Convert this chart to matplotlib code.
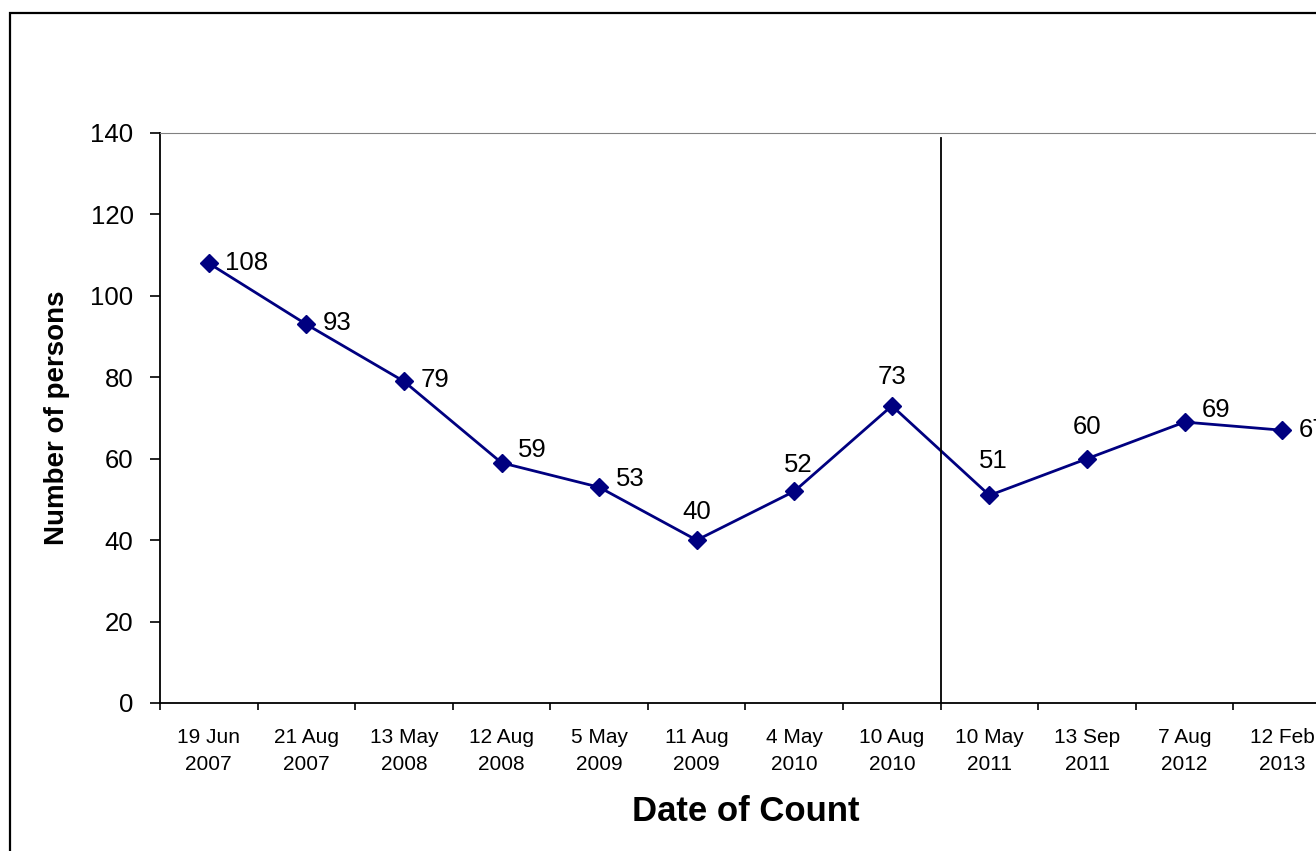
import matplotlib
matplotlib.use("Agg")
import matplotlib.pyplot as plt
from matplotlib.patches import Rectangle

plt.rcParams['font.family'] = ['Liberation Sans', 'DejaVu Sans']

dates = ["19 Jun\n2007", "21 Aug\n2007", "13 May\n2008", "12 Aug\n2008",
         "5 May\n2009", "11 Aug\n2009", "4 May\n2010", "10 Aug\n2010",
         "10 May\n2011", "13 Sep\n2011", "7 Aug\n2012", "12 Feb\n2013"]
persons = [108, 93, 79, 59, 53, 40, 52, 73, 51, 60, 69, 67]

# where each value label sits, offset from its point (in points)
label_offsets = [(12, 0), (12, 1), (12, 1), (12, 9), (12, 6), (0, 20),
                 (3, 19), (0, 21), (3, 25), (0, 23), (12, 9), (12, 0)]

fig = plt.figure(figsize=(13.16, 8.51), dpi=100)
fig.patches.append(Rectangle((10 / 1316, -0.1), 1.2, 1 - 13 / 851 + 0.1,
                             transform=fig.transFigure, fill=False,
                             edgecolor='black', linewidth=1.6))

ax = fig.add_axes([160 / 1316, 148 / 851, 1171 / 1316, 570 / 851])

x = list(range(len(persons)))
ax.plot(x, persons, color='#000080', linewidth=2, marker='D', markersize=9.5)

for xi, val, (dx, dy) in zip(x, persons, label_offsets):
    ha = 'left' if dx >= 8 else 'center'
    ax.annotate(str(val), (xi, val), xytext=(dx, dy), textcoords='offset points',
                ha=ha, va='center', fontsize=18.5)

ax.axvline(7.5, ymin=0, ymax=0.991, color='black', linewidth=1.3)

ax.set_xlim(-0.5, len(persons) - 0.5)
ax.set_ylim(0, 140)
ax.set_yticks(range(0, 141, 20))
ax.set_xticks([i - 0.5 for i in range(len(persons) + 1)])
ax.set_xticklabels([])
ax.set_xticks(x, minor=True)
ax.set_xticklabels(dates, minor=True, fontsize=15, linespacing=1.55)
ax.tick_params(axis='x', which='minor', length=0, pad=18)
ax.tick_params(axis='x', which='major', length=5, width=1.2)
ax.tick_params(axis='y', length=7, width=1.2, pad=12, labelsize=18.5)

ax.spines['top'].set_color('#808080')
ax.spines['right'].set_visible(False)
ax.spines['left'].set_linewidth(1.3)
ax.spines['bottom'].set_linewidth(1.3)

ax.set_ylabel("Number of persons", fontsize=20, fontweight='bold', va='center')
ax.yaxis.set_label_coords(-0.088, 0.5)
ax.set_xlabel("Date of Count", fontsize=25, fontweight='bold', va='center')
ax.xaxis.set_label_coords(0.5, -0.191)

fig.savefig("out.png", dpi=100)
